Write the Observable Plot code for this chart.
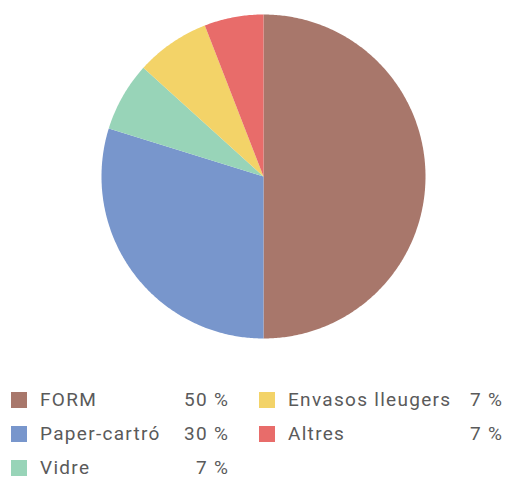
<!DOCTYPE html>
<html>
<head>
<meta charset="utf-8">
<script src="https://cdn.jsdelivr.net/npm/d3@7"></script>
<script src="https://cdn.jsdelivr.net/npm/@observablehq/plot@0.6"></script>
<style>
  html, body { margin: 0; padding: 0; background: #fff; }
  #chart { width: 506px; }
  .legend {
    display: grid;
    grid-template-rows: 34px 34px 20px;
    grid-auto-flow: column;
    grid-template-columns: 217px 243px;
    column-gap: 31px;
    margin: 50px 0 0 11px;
    font-family: Roboto, "Open Sans", sans-serif;
    font-size: 19px;
    letter-spacing: 1.3px;
    line-height: 20px;
    color: #5a5a5a;
  }
  .item { display: flex; align-items: center; height: 20px; align-self: start; }
  .sw { width: 16px; height: 16px; flex: none; margin-right: 13px; }
  .lab { flex: 1; white-space: nowrap; }
  .pct { white-space: nowrap; text-align: right; margin-right: -1.3px; }
</style>
</head>
<body>
<div id="chart"></div>
<script>
const categories = ["FORM", "Paper-cartró", "Vidre", "Envasos lleugers", "Altres"];
const values = [50.0, 29.8, 6.9, 7.4, 5.9];
const percentLabels = ["50 %", "30 %", "7 %", "7 %", "7 %"];
const colors = ["#a8776b", "#7896cc", "#98d4b8", "#f3d368", "#e86c6a"];

const data = categories.map((name, i) => ({name, value: values[i]}));
const arcs = d3.pie().sort(null).value(d => d.value)(data);

// Sample each slice as a polygon in unit-circle coordinates
const pts = [];
for (const a of arcs) {
  const name = a.data.name;
  pts.push({name, x: 0, y: 0});
  const n = Math.max(2, Math.ceil((a.endAngle - a.startAngle) / 0.01));
  for (let k = 0; k <= n; k++) {
    const t = a.startAngle + (a.endAngle - a.startAngle) * k / n;
    pts.push({name, x: Math.sin(t), y: Math.cos(t)});
  }
  pts.push({name, x: 0, y: 0});
}

const plot = Plot.plot({
  width: 506,
  height: 340,
  marginLeft: 101,
  marginRight: 81,
  marginTop: 14,
  marginBottom: 2,
  x: {domain: [-1, 1], axis: null},
  y: {domain: [-1, 1], axis: null},
  color: {domain: categories, range: colors},
  marks: [
    Plot.line(pts, {x: "x", y: "y", z: "name", fill: "name", stroke: "none", curve: "linear"})
  ]
});
document.getElementById("chart").appendChild(plot);

const legend = document.createElement("div");
legend.className = "legend";
categories.forEach((c, i) => {
  const it = document.createElement("div");
  it.className = "item";
  it.innerHTML = `<span class="sw" style="background:${colors[i]}"></span><span class="lab">${c}</span><span class="pct">${percentLabels[i]}</span>`;
  legend.appendChild(it);
});
document.getElementById("chart").appendChild(legend);
</script>
</body>
</html>
